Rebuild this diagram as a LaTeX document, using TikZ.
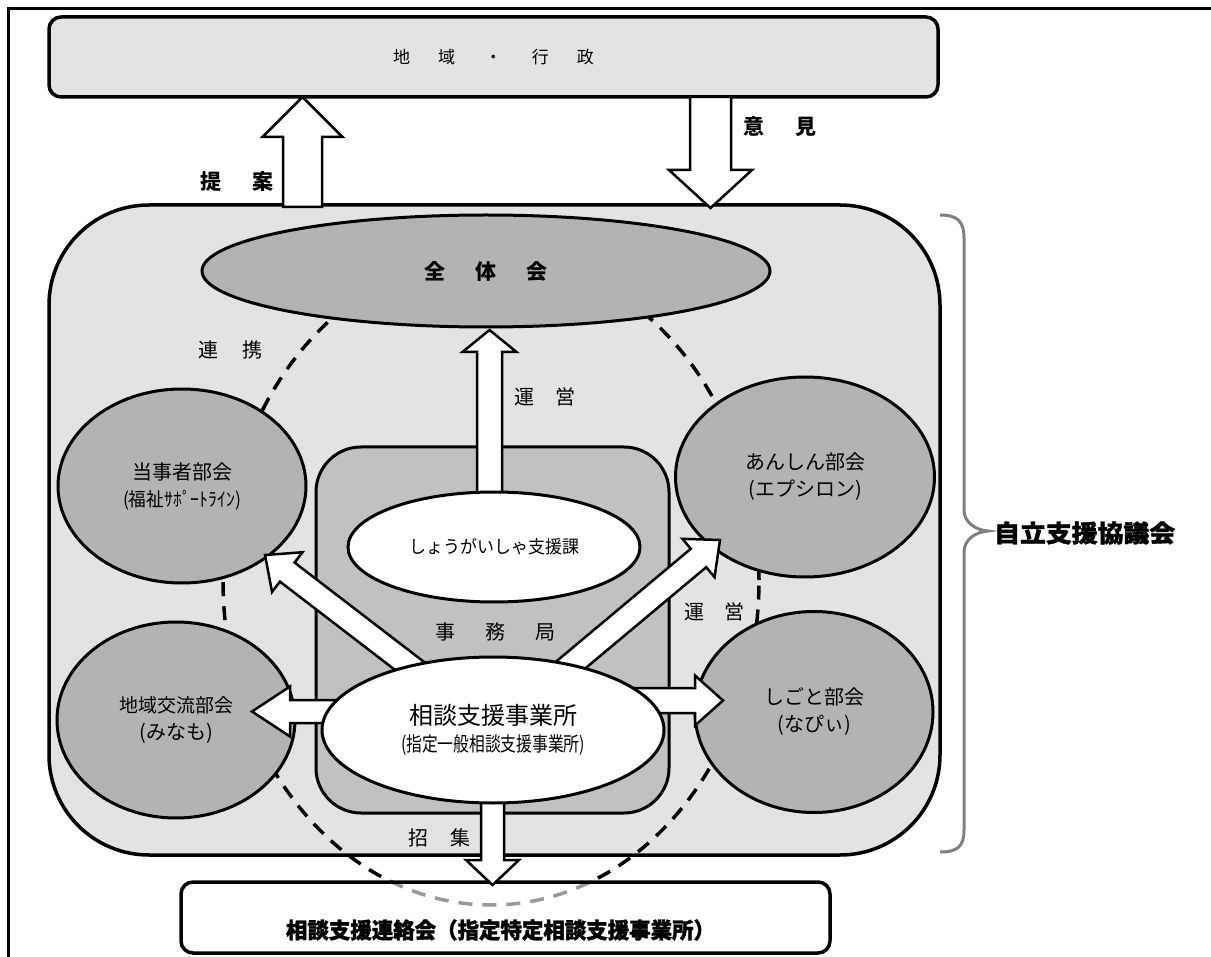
\documentclass[tikz,border=0pt]{standalone}
\usepackage{fontspec}
\usepackage{graphicx}
\setmainfont{Noto Sans CJK JP}
\usetikzlibrary{shapes.geometric}
\definecolor{lightbg}{HTML}{E3E3E3}
\definecolor{midgray}{HTML}{B3B3B3}
\definecolor{boxgray}{HTML}{C1C1C1}
\definecolor{bracketgray}{HTML}{808080}
\newcommand\myfs[2]{\fontsize{#1}{#2}\selectfont}
\newcommand\heavy{\bfseries\addfontfeature{FakeBold=1.5}}
\newdimen\arrdx
\newdimen\arrdy
% block arrow: #1 tail coordinate, #2 tip coordinate, #3 shaft half width, #4 head half width, #5 head length
\newcommand\blockarrow[5]{%
  \pgfextractx{\arrdx}{\pgfpointdiff{\pgfpointanchor{#1}{center}}{\pgfpointanchor{#2}{center}}}%
  \pgfextracty{\arrdy}{\pgfpointdiff{\pgfpointanchor{#1}{center}}{\pgfpointanchor{#2}{center}}}%
  \pgfmathsetmacro\arrang{atan2(\arrdy,\arrdx)}%
  \pgfmathsetmacro\arrlen{veclen(\arrdx,\arrdy)}%
  \pgfmathsetmacro\arrbase{\arrlen-#5}%
  \draw[blockarr, shift={(#1)}, rotate=\arrang]
    (0pt,#3pt) -- (\arrbase pt,#3pt) -- (\arrbase pt,#4pt) -- (\arrlen pt,0pt)
    -- (\arrbase pt,-#4pt) -- (\arrbase pt,-#3pt) -- (0pt,-#3pt) -- cycle;}
\begin{document}
\begin{tikzpicture}[x=1pt,y=-1pt,
  frameline/.style={line width=3pt},
  roundbox/.style={draw, line width=3.5pt, rounded corners=12pt, inner sep=0pt},
  bubble/.style={ellipse, draw, line width=3pt, fill=midgray, inner sep=0pt, align=center, font=\myfs{20}{27}},
  whiteoval/.style={ellipse, draw, line width=3pt, fill=white, inner sep=0pt, align=center},
  blockarr/.style={draw, fill=white, line width=2.5pt, line join=miter},
  dashring/.style={ellipse, draw, line width=3.5pt, dash pattern=on 14pt off 10pt, inner sep=0pt},
  lbl/.style={inner sep=0pt, font=\myfs{20}{24}}
]
\useasboundingbox (0,0) rectangle (1211,957);
\fill[white] (0,0) rectangle (1211,957);

% outer frame (top and left edges)
\coordinate (frameTL) at (8,9);
\coordinate (frameTR) at (1211,9);
\coordinate (frameBL) at (8,957);
\draw[frameline] (frameBL) -- (frameTL) -- (frameTR);

% region / administration box
\node[roundbox, fill=lightbg, minimum width=889pt, minimum height=80pt, font=\myfs{17}{20}] (gyosei) at (493.5,57)
  {地\hspace{28pt}域\hspace{30pt}・\hspace{30pt}行\hspace{28pt}政};

% council box
\node[draw, line width=3.5pt, rounded corners=100pt, fill=lightbg, minimum width=891pt, minimum height=650pt, inner sep=0pt] (kyogikai) at (494.5,530) {};

% dashed ring
\node[dashring, minimum width=536pt, minimum height=650pt] (ring) at (491,580) {};

% secretariat box
\node[draw, line width=3pt, rounded corners=45pt, fill=boxgray, minimum width=353pt, minimum height=366pt, inner sep=0pt] (jimukyoku) at (492.5,630) {};

% bottom box (semi-transparent fill lightens the dashes beneath)
\node[roundbox, fill=white, fill opacity=0.6, minimum width=649pt, minimum height=71pt] (renraku) at (505.5,917.5) {};

% general meeting and sub-committees
\node[bubble, minimum width=568pt, minimum height=112pt, font=\bfseries\myfs{21}{24}] (zentai) at (486,271)
  {全\hspace{30pt}体\hspace{30pt}会};
\node[bubble, minimum width=248pt, minimum height=194pt] (toujisha) at (182,486)
  {当事者部会\\{\myfs{19}{27}\resizebox{118pt}{\height}{(福祉ｻﾎﾟｰﾄﾗｲﾝ)}}};
\node[bubble, minimum width=238pt, minimum height=196pt] (chiiki) at (176,720)
  {{\myfs{19}{27}地域交流部会}\\(みなも)};
\node[bubble, minimum width=259pt, minimum height=200pt] (anshin) at (805,477)
  {あんしん部会\\(エプシロン)};
\node[bubble, minimum width=238pt, minimum height=201pt] (shigoto) at (814,712)
  {しごと部会\\(なぴぃ)};

% block arrows
\coordinate (teianTail) at (302.5,207);
\coordinate (teianTip) at (302.5,97);
\coordinate (ikenTail) at (710.5,97);
\coordinate (ikenTip) at (710.5,208);
\coordinate (uneiTail) at (489.5,500);
\coordinate (uneiTip) at (489.5,330);
\coordinate (soudanC) at (493,730);
\coordinate (toujiTip) at (265,555);
\coordinate (anshinTip) at (720,540);
\coordinate (chiikiTail) at (400,711.5);
\coordinate (chiikiTip) at (252,711.5);
\coordinate (shigotoTail) at (590,700.5);
\coordinate (shigotoTip) at (723,700.5);
\coordinate (shoshuTail) at (492.5,760);
\coordinate (shoshuTip) at (492.5,885);
\blockarrow{teianTail}{teianTip}{19.5}{40}{40}
\blockarrow{ikenTail}{ikenTip}{20.5}{41.5}{38}
\blockarrow{uneiTail}{uneiTip}{12.5}{27}{22}
\blockarrow{soudanC}{toujiTip}{12}{25}{28}
\blockarrow{soudanC}{anshinTip}{12}{25}{28}
\blockarrow{chiikiTail}{chiikiTip}{11.5}{25}{38}
\blockarrow{shigotoTail}{shigotoTip}{12.5}{25}{28}
\blockarrow{shoshuTail}{shoshuTip}{11.5}{26.5}{25}

% white offices
\node[whiteoval, minimum width=292pt, minimum height=110pt, font=\myfs{18}{22}] (shougai) at (494,547)
  {\resizebox{170pt}{\height}{しょうがいしゃ支援課}};
\node[whiteoval, minimum width=342pt, minimum height=146pt, font=\myfs{24}{27}] (soudan) at (493,730)
  {相談支援事業所\\{\myfs{20}{27}\resizebox{184pt}{\height}{(指定一般相談支援事業所)}}};

% labels
\node[lbl, font=\bfseries\myfs{21}{24}] (teian) at (237,182) {提\hspace{31pt}案};
\node[lbl, font=\bfseries\myfs{21}{24}] (iken) at (780,127) {意\hspace{32pt}見};
\node[lbl] (renkei) at (230,350) {連\hspace{24pt}携};
\node[lbl] (unei1) at (545,397) {運\hspace{21pt}営};
\node[lbl] (unei2) at (714,612) {運\hspace{20pt}営};
\node[lbl] (jimu) at (495,632) {事\hspace{30pt}務\hspace{30pt}局};
\node[lbl] (shoshu) at (439,838) {招\hspace{22pt}集};
\node[lbl, font=\heavy\myfs{22}{24}] (renrakuText) at (500.5,930)
  {\resizebox{429pt}{\height}{相談支援連絡会（指定特定相談支援事業所）}};

% bracket and council name
\coordinate (brTop) at (940,215);
\coordinate (brTip) at (988,531);
\coordinate (brBot) at (940,852);
\draw[bracketgray, line width=3pt] (brTop) .. controls (958,215) and (964,222) .. (964,238)
  -- (964,510) .. controls (964,522) and (975,530) .. (brTip)
  .. controls (975,532) and (964,540) .. (964,552)
  -- (964,830) .. controls (964,846) and (958,852) .. (brBot);
\node[lbl, font=\heavy\myfs{24}{28}, anchor=west] (kyogikaiName) at (994,533)
  {\resizebox{181pt}{\height}{自立支援協議会}};
\end{tikzpicture}
\end{document}
